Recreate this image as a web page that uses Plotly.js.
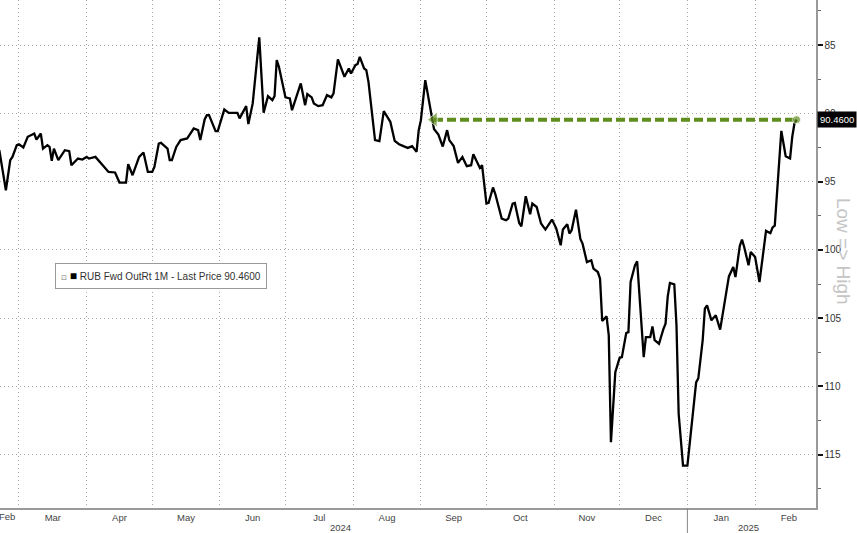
<!DOCTYPE html>
<html><head><meta charset="utf-8">
<script src="https://cdn.plot.ly/plotly-3.0.1.min.js"></script>
<style>html,body{margin:0;padding:0;background:#fff}#chart{width:857px;height:533px}</style>
</head><body><div id="chart"></div>
<script>
const dates = ['2024-02-21','2024-02-24','2024-02-26','2024-02-27','2024-02-29','2024-03-01','2024-03-03','2024-03-05','2024-03-08','2024-03-09',
'2024-03-11','2024-03-12','2024-03-14','2024-03-15','2024-03-16','2024-03-17','2024-03-19','2024-03-22','2024-03-24','2024-03-25',
'2024-03-28','2024-03-30','2024-04-01','2024-04-02','2024-04-05','2024-04-07','2024-04-09','2024-04-11','2024-04-14','2024-04-16',
'2024-04-19','2024-04-20','2024-04-22','2024-04-25','2024-04-27','2024-04-29','2024-05-01','2024-05-02','2024-05-04','2024-05-05',
'2024-05-08','2024-05-09','2024-05-10','2024-05-12','2024-05-14','2024-05-17','2024-05-18','2024-05-20','2024-05-22','2024-05-23',
'2024-05-25','2024-05-26','2024-05-27','2024-05-30','2024-05-31','2024-06-03','2024-06-05','2024-06-07','2024-06-09','2024-06-10',
'2024-06-13','2024-06-14','2024-06-16','2024-06-19','2024-06-21','2024-06-23','2024-06-25','2024-06-26','2024-06-27','2024-06-28',
'2024-07-01','2024-07-03','2024-07-04','2024-07-08','2024-07-10','2024-07-11','2024-07-13','2024-07-14','2024-07-16','2024-07-18',
'2024-07-20','2024-07-22','2024-07-23','2024-07-25','2024-07-28','2024-07-30','2024-07-31','2024-08-02','2024-08-03','2024-08-04',
'2024-08-06','2024-08-07','2024-08-08','2024-08-11','2024-08-13','2024-08-15','2024-08-18','2024-08-20','2024-08-22','2024-08-24',
'2024-08-26','2024-08-28','2024-08-30','2024-08-31','2024-09-01','2024-09-03','2024-09-04','2024-09-07','2024-09-09','2024-09-11',
'2024-09-13','2024-09-14','2024-09-16','2024-09-18','2024-09-20','2024-09-22','2024-09-24','2024-09-25','2024-09-28','2024-09-29',
'2024-10-01','2024-10-02','2024-10-04','2024-10-05','2024-10-08','2024-10-10','2024-10-11','2024-10-13','2024-10-14','2024-10-16',
'2024-10-17','2024-10-19','2024-10-21','2024-10-22','2024-10-24','2024-10-26','2024-10-28','2024-10-31','2024-11-02','2024-11-04',
'2024-11-05','2024-11-07','2024-11-08','2024-11-09','2024-11-11','2024-11-13','2024-11-14','2024-11-16','2024-11-18','2024-11-19',
'2024-11-21','2024-11-22','2024-11-23','2024-11-25','2024-11-26','2024-11-27','2024-11-29','2024-12-01','2024-12-02','2024-12-04',
'2024-12-05','2024-12-06','2024-12-08','2024-12-09','2024-12-12','2024-12-13','2024-12-15','2024-12-16','2024-12-17','2024-12-19',
'2024-12-21','2024-12-22','2024-12-23','2024-12-24','2024-12-26','2024-12-27','2024-12-28','2024-12-30','2025-01-01','2025-01-03',
'2025-01-05','2025-01-06','2025-01-08','2025-01-09','2025-01-10','2025-01-12','2025-01-14','2025-01-16','2025-01-19','2025-01-20',
'2025-01-22','2025-01-23','2025-01-25','2025-01-26','2025-01-27','2025-01-29','2025-01-30','2025-02-01','2025-02-03','2025-02-05',
'2025-02-06','2025-02-08','2025-02-09','2025-02-10','2025-02-13','2025-02-15','2025-02-16','2025-02-17','2025-02-18','2025-02-19',
'2025-02-20'];
const values = [92.70,95.63,93.43,93.19,92.33,92.26,92.50,91.72,91.48,91.92,
91.48,92.58,92.33,92.46,93.48,92.58,93.43,92.70,92.77,93.80,
93.31,93.38,93.19,93.31,93.19,93.55,93.92,94.29,94.33,95.07,
95.07,93.72,94.53,93.19,92.87,94.29,94.29,93.92,92.21,92.16,
92.58,93.43,93.43,92.46,91.96,91.84,91.60,91.11,91.23,91.96,
90.45,90.13,90.13,91.30,91.30,89.71,89.96,89.96,89.96,90.37,
89.47,90.79,89.27,84.44,89.96,88.74,89.03,88.74,86.10,86.59,
88.83,88.91,89.77,87.81,89.40,88.59,88.83,89.27,89.47,89.40,
88.67,88.83,88.54,86.05,87.32,86.71,87.08,86.47,86.39,85.86,
86.71,86.83,87.69,91.96,92.04,89.84,90.62,92.02,92.26,92.40,
92.53,92.40,92.82,91.23,90.50,87.57,88.54,91.15,91.55,92.43,
91.23,91.96,92.40,93.63,93.19,93.87,93.80,92.99,94.00,93.80,
96.61,96.56,95.43,95.87,97.71,97.83,97.71,96.61,96.56,98.03,
98.27,96.07,97.39,96.61,96.86,98.07,98.51,97.78,98.44,99.66,
98.51,98.12,98.80,98.56,97.05,99.20,99.54,100.89,100.76,101.37,
101.62,102.10,105.21,104.87,106.26,114.08,108.95,107.90,107.85,106.09,
106.02,102.35,101.13,100.84,107.85,106.38,106.38,105.60,106.60,106.87,
105.80,105.40,103.40,102.42,102.52,105.50,112.00,115.80,115.80,112.50,
109.70,109.40,106.60,104.30,104.06,105.16,104.79,105.84,102.67,101.94,
101.25,101.99,99.70,99.25,99.79,101.13,100.15,100.52,102.35,99.70,
98.61,98.78,98.35,98.23,91.28,93.14,93.23,93.31,91.72,90.74,
90.46];
const seriesName = 'RUB Fwd OutRt 1M - Last Price';
const arrowStartDate = '2024-09-07';
const yTicks = [85, 90, 95, 100, 105, 110, 115];
const yMinorTicks = [82.5, 87.5, 92.5, 97.5, 102.5, 107.5, 112.5, 117.5];
const xRange = ['2024-02-21 07:26', '2025-02-28 21:00'];
const yRange = [118.9, 81.7];
const yearLabels = [{text:'2024', date:'2024-07-26'}, {text:'2025', date:'2025-01-29'}];
const yearSeparator = '2025-01-01';
const firstMonthLabel = {text:'Feb', date:'2024-02-24 12:00'};

const lastVal = values[values.length-1];
const lastDate = dates[dates.length-1];
const green = '#5f8d1e';

const traces = [
  {x: dates, y: values, type:'scatter', mode:'lines', line:{color:'#000', width:2.3}, hoverinfo:'skip'},
  {x: [arrowStartDate, lastDate], y: [lastVal, lastVal], type:'scatter', mode:'lines+markers',
   line:{color:green, width:4, dash:'9px,4px'},
   marker:{color:green, size:[13, 8], symbol:['triangle-left','circle']}, hoverinfo:'skip'}
];

const gridC = '#a8a8a8';
const layout = {
  width:857, height:533,
  margin:{l:0, r:41, t:0, b:25},
  paper_bgcolor:'#fff', plot_bgcolor:'#fff',
  showlegend:false,
  font:{family:'Liberation Sans, Arial, sans-serif', color:'#333'},
  xaxis:{type:'date', range:xRange, dtick:'M1', tick0:'2024-02-01', ticklabelmode:'period', tickformat:'%b',
    showgrid:true, gridcolor:gridC, griddash:'1px,3px', gridwidth:1,
    showline:true, linecolor:'#9a9a9a', linewidth:1.5, ticks:'',
    tickfont:{size:9.5, color:'#444'}, zeroline:false, fixedrange:true},
  yaxis:{side:'right', range:yRange, tickmode:'array', tickvals:yTicks,
    showgrid:true, gridcolor:gridC, griddash:'1px,3px', gridwidth:1,
    showline:true, linecolor:'#9a9a9a', linewidth:1.5,
    ticks:'outside', ticklen:5, tickwidth:2, tickcolor:'#111',
    minor:{tickmode:'array', tickvals:yMinorTicks, ticks:'outside', ticklen:3, tickcolor:'#666', tickwidth:1, showgrid:false},
    tickfont:{size:10, color:'#333'}, zeroline:false, fixedrange:true},
  shapes:[
    {type:'line', xref:'x', yref:'paper', x0:yearSeparator, x1:yearSeparator, y0:0, y1:-0.05, line:{color:'#888', width:1}}
  ],
  annotations:[
    {xref:'paper', x:1, xanchor:'left', xshift:1, yref:'y', y:lastVal, yanchor:'middle',
     text: lastVal.toFixed(4), showarrow:false, bgcolor:'#000', font:{color:'#fff', size:9.5}, borderpad:2},
    {xref:'paper', x:1.049, yref:'paper', y:0.505, text:'Low => High', textangle:90, showarrow:false,
     font:{size:19, color:'#c4c4c4'}},
    {xref:'paper', x:0.0673, xanchor:'left', yref:'paper', y:0.4567, yanchor:'middle',
     text:'<span style="font-size:7px;color:#777">⊡</span> <span style="font-size:12px;color:#000">■</span> ' + seriesName + ' ' + lastVal.toFixed(4),
     showarrow:false, bgcolor:'#fff', bordercolor:'#999', borderwidth:1, borderpad:5, font:{size:10, color:'#333'}},
    {xref:'x', x:firstMonthLabel.date, yref:'paper', y:0, yanchor:'top', yshift:-1, text:firstMonthLabel.text, showarrow:false, font:{size:9.5, color:'#444'}}
  ].concat(yearLabels.map(l => ({xref:'x', x:l.date, yref:'paper', y:0, yanchor:'top', yshift:-12, text:l.text, showarrow:false, font:{size:9.5, color:'#444'}})))
};

Plotly.newPlot('chart', traces, layout, {displayModeBar:false, staticPlot:true});
</script></body></html>
